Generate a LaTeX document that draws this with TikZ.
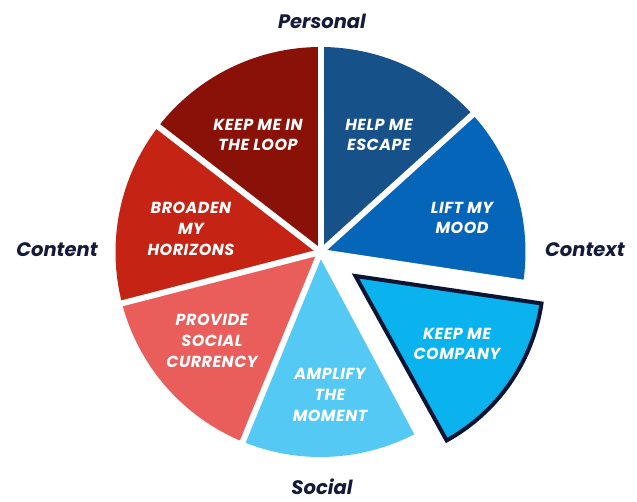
\documentclass[tikz,border=0pt]{standalone}
\usepackage{fontspec}
\setmainfont{Poppins}
\newfontfamily\lblfont[LetterSpace=3]{Poppins}
\definecolor{cHelp}{HTML}{175189}
\definecolor{cLift}{HTML}{0565B9}
\definecolor{cComp}{HTML}{0AB3EE}
\definecolor{cOut}{HTML}{0C1433}
\definecolor{cAmp}{HTML}{54C9F3}
\definecolor{cProv}{HTML}{E95D5B}
\definecolor{cBroad}{HTML}{C52415}
\definecolor{cLoop}{HTML}{8A1108}
\definecolor{cNavy}{HTML}{141B3A}
\begin{document}
\begin{tikzpicture}[x=1pt,y=1pt,
  slicelbl/.style={text=white, font=\lblfont\fontsize{16}{20.8}\selectfont\bfseries\itshape, align=center, inner sep=0pt},
  catlbl/.style={text=cNavy, font=\fontsize{19.5}{22}\selectfont\bfseries\itshape, inner sep=0pt},
  gap/.style={white, line width=6pt}]
\useasboundingbox (0,0) rectangle (637,501);
\coordinate (C) at (320.5,249);
\def\R{205}
\fill[cHelp]  (C) -- ++(90:\R) arc[start angle=90, end angle=42.1, radius=\R] -- cycle;
\fill[cLift]  (C) -- ++(42.1:\R) arc[start angle=42.1, end angle=-8.6, radius=\R] -- cycle;
\fill[cAmp]   (C) -- ++(-61.9:\R) arc[start angle=-61.9, end angle=-112.3, radius=\R] -- cycle;
\fill[cProv]  (C) -- ++(-112.3:\R) arc[start angle=-112.3, end angle=-165.5, radius=\R] -- cycle;
\fill[cBroad] (C) -- ++(-165.5:\R) arc[start angle=-165.5, end angle=-217.7, radius=\R] -- cycle;
\fill[cLoop]  (C) -- ++(-217.7:\R) arc[start angle=-217.7, end angle=-270, radius=\R] -- cycle;
\foreach \a in {90,42.1,-8.6,-61.9,-112.3,-165.5,-217.7}
  \draw[gap] (C) -- ++(\a:{\R+6});
\coordinate (E) at (355.5,225);
\filldraw[fill=cComp, draw=cOut, line width=4pt, line join=miter]
  (E) -- ++(-8.4:188) arc[start angle=-8.4, end angle=-61, radius=188] -- cycle;
\node[slicelbl] (loop) at (258,366) {KEEP ME IN\\THE LOOP};
\node[slicelbl] (escape) at (379,366) {HELP ME\\ESCAPE};
\node[slicelbl] (mood) at (462,283) {LIFT MY\\MOOD};
\node[slicelbl] (company) at (457,157) {KEEP ME\\COMPANY};
\node[slicelbl] (moment) at (330,106) {AMPLIFY\\THE\\MOMENT};
\node[slicelbl] (currency) at (212,160) {PROVIDE\\SOCIAL\\CURRENCY};
\node[slicelbl] (horizons) at (191,272) {BROADEN\\MY\\HORIZONS};
\node[catlbl] (personal) at (322,480) {Personal};
\node[catlbl] (context) at (585,251) {Context};
\node[catlbl] (content) at (57,251) {Content};
\node[catlbl] (social) at (322,14) {Social};
\end{tikzpicture}
\end{document}
